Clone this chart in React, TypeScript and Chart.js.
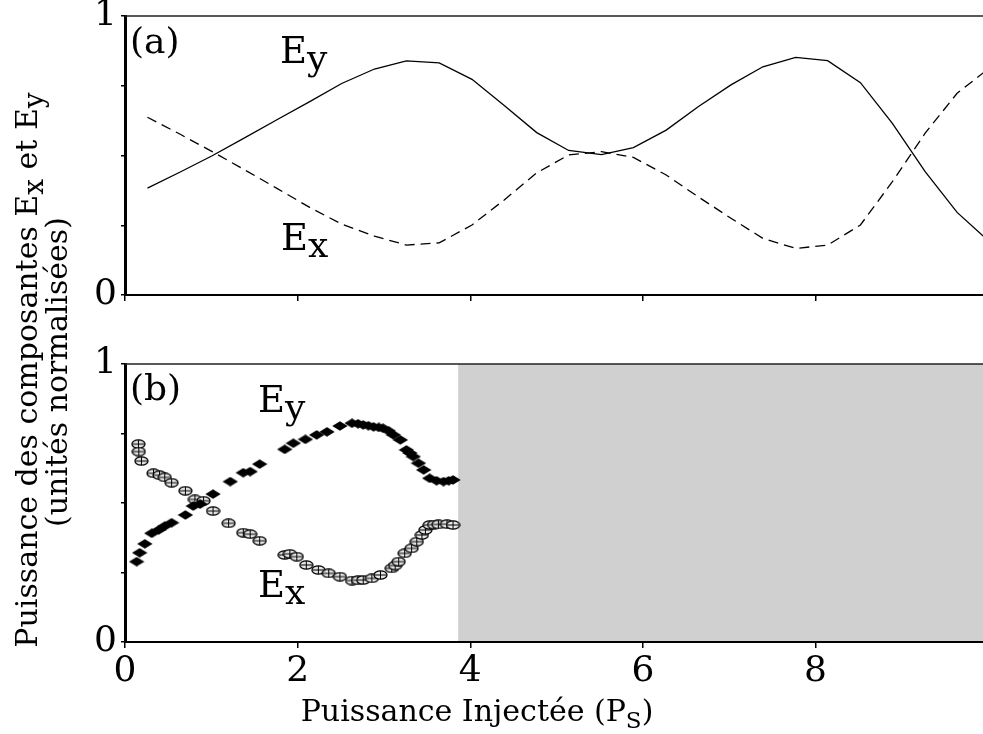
import React, { useEffect, useRef } from 'react';
import { Chart, registerables } from 'chart.js';

Chart.register(...registerables);

// ---------- data ----------
const X_MAX = 9.94;
const SHADE_START = 3.86;
const X_TICKS = [0, 2, 4, 6, 8];
const Y_TICKS = [0, 0.25, 0.5, 0.75, 1];
const Y_LABELED = [0, 1];

// (a) simulation
const simX = [0.26, 0.64, 1.01, 1.39, 1.76, 2.14, 2.51, 2.89, 3.26, 3.64, 4.02, 4.39, 4.77, 5.14, 5.52, 5.89, 6.27, 6.64, 7.02, 7.39, 7.77, 8.14, 8.52, 8.89, 9.27, 9.64, 10.02];
const simEy = [0.383, 0.441, 0.499, 0.564, 0.628, 0.693, 0.758, 0.810, 0.839, 0.832, 0.773, 0.68, 0.582, 0.518, 0.503, 0.528, 0.591, 0.675, 0.753, 0.818, 0.852, 0.840, 0.761, 0.615, 0.442, 0.296, 0.19];
const simEx = [0.637, 0.576, 0.514, 0.448, 0.382, 0.314, 0.254, 0.211, 0.179, 0.187, 0.251, 0.34, 0.438, 0.502, 0.514, 0.493, 0.430, 0.352, 0.275, 0.203, 0.167, 0.179, 0.251, 0.406, 0.580, 0.723, 0.815];

// (b) experiment
const expEyX = [0.135, 0.17, 0.23, 0.31, 0.39, 0.46, 0.54, 0.70, 0.79, 0.87, 1.02, 1.22, 1.37, 1.45, 1.56, 1.85, 1.95, 2.09, 2.22, 2.34, 2.49, 2.63, 2.70, 2.76, 2.82, 2.88, 2.94, 2.99, 3.05, 3.11, 3.19, 3.26, 3.30, 3.34, 3.40, 3.46, 3.53, 3.61, 3.69, 3.75, 3.80];
const expEy = [0.289, 0.321, 0.353, 0.391, 0.403, 0.417, 0.429, 0.457, 0.489, 0.496, 0.532, 0.577, 0.609, 0.613, 0.640, 0.693, 0.715, 0.729, 0.745, 0.756, 0.777, 0.787, 0.785, 0.781, 0.778, 0.774, 0.772, 0.769, 0.760, 0.745, 0.727, 0.691, 0.680, 0.667, 0.643, 0.619, 0.589, 0.580, 0.577, 0.580, 0.583];
const expExX = [0.155, 0.16, 0.19, 0.33, 0.40, 0.46, 0.54, 0.70, 0.81, 0.91, 1.02, 1.20, 1.37, 1.45, 1.56, 1.85, 1.91, 1.99, 2.10, 2.24, 2.36, 2.49, 2.63, 2.70, 2.76, 2.86, 2.96, 3.09, 3.13, 3.17, 3.24, 3.32, 3.38, 3.44, 3.48, 3.53, 3.58, 3.63, 3.73, 3.80];
const expEx = [0.712, 0.685, 0.651, 0.607, 0.600, 0.592, 0.573, 0.544, 0.513, 0.508, 0.471, 0.427, 0.393, 0.388, 0.364, 0.313, 0.317, 0.307, 0.277, 0.259, 0.247, 0.235, 0.221, 0.222, 0.223, 0.229, 0.241, 0.265, 0.275, 0.289, 0.319, 0.337, 0.361, 0.385, 0.403, 0.421, 0.422, 0.423, 0.424, 0.421];

const FONT = "'DejaVu Serif', serif";
const W = 983;
const H = 734;
const PLOT_LEFT = 125;

type Run = { t: string; s: number; dy?: number };

function drawRich(ctx: CanvasRenderingContext2D, runs: Run[], x: number, y: number, align: 'left' | 'center' = 'left') {
  const widths = runs.map((r) => {
    ctx.font = `${r.s}px ${FONT}`;
    return ctx.measureText(r.t).width;
  });
  const total = widths.reduce((a, b) => a + b, 0);
  let cx = align === 'center' ? x - total / 2 : x;
  ctx.textAlign = 'left';
  ctx.textBaseline = 'alphabetic';
  runs.forEach((r, i) => {
    ctx.font = `${r.s}px ${FONT}`;
    ctx.fillText(r.t, cx, y + (r.dy || 0));
    cx += widths[i];
  });
}

function scalesFor(showXLabels: boolean, xAxisH: number) {
  return {
    x: {
      type: 'linear',
      min: 0,
      max: X_MAX,
      afterBuildTicks: (s: any) => {
        s.ticks = X_TICKS.map((v) => ({ value: v }));
      },
      ticks: {
        display: showXLabels,
        autoSkip: false,
        maxRotation: 0,
        font: { family: FONT, size: 36 },
        color: '#000',
        padding: 2,
        callback: (v: any) => String(v),
      },
      grid: { drawOnChartArea: false, drawTicks: true, tickLength: 6, color: '#000', lineWidth: 1.5 },
      border: { display: true, color: '#000', width: 2 },
      afterFit: (s: any) => {
        s.height = xAxisH;
        s.paddingLeft = 0;
        s.paddingRight = 0;
      },
    },
    y: {
      type: 'linear',
      min: 0,
      max: 1,
      afterBuildTicks: (s: any) => {
        s.ticks = Y_TICKS.map((v) => ({ value: v }));
      },
      ticks: {
        autoSkip: false,
        font: { family: FONT, size: 36 },
        color: '#000',
        padding: 4,
        callback: (v: any) => (Y_LABELED.includes(v) ? String(v) : ''),
      },
      grid: { drawOnChartArea: false, drawTicks: true, tickLength: 4, color: '#000', lineWidth: 1.5 },
      border: { display: true, color: '#000', width: 3 },
      afterFit: (s: any) => {
        s.width = PLOT_LEFT;
        s.paddingTop = 0;
        s.paddingBottom = 0;
      },
    },
  };
}

function topLine(chart: any) {
  const { ctx, chartArea: ca } = chart;
  ctx.save();
  ctx.strokeStyle = '#222';
  ctx.lineWidth = 1.5;
  ctx.beginPath();
  ctx.moveTo(ca.left, ca.top);
  ctx.lineTo(ca.right, ca.top);
  ctx.stroke();
  ctx.restore();
}

const decoA = {
  id: 'decoA',
  afterDraw(chart: any) {
    topLine(chart);
    const ctx = chart.ctx as CanvasRenderingContext2D;
    ctx.save();
    ctx.fillStyle = '#000';
    drawRich(ctx, [{ t: '(a)', s: 36 }], 130, 53);
    drawRich(ctx, [{ t: 'E', s: 37 }, { t: 'y', s: 36, dy: 7 }], 280, 63);
    drawRich(ctx, [{ t: 'E', s: 37 }, { t: 'x', s: 36, dy: 7 }], 281, 250);
    ctx.restore();
  },
};

const decoB = {
  id: 'decoB',
  beforeDraw(chart: any) {
    const { ctx, chartArea: ca, scales } = chart;
    const x0 = scales.x.getPixelForValue(SHADE_START);
    ctx.save();
    ctx.fillStyle = '#d0d0d0';
    ctx.fillRect(x0, ca.top, ca.right - x0, ca.bottom - ca.top);
    ctx.restore();
  },
  afterDraw(chart: any) {
    topLine(chart);
    const ctx = chart.ctx as CanvasRenderingContext2D;
    ctx.save();
    ctx.fillStyle = '#000';
    drawRich(ctx, [{ t: '(b)', s: 36 }], 130, 400);
    drawRich(ctx, [{ t: 'E', s: 37 }, { t: 'y', s: 36, dy: 7 }], 258, 412);
    drawRich(ctx, [{ t: 'E', s: 37 }, { t: 'x', s: 36, dy: 7 }], 258, 597);
    // x title
    drawRich(ctx, [
      { t: 'Puissance Injectée (P', s: 30 },
      { t: 'S', s: 23, dy: 7 },
      { t: ')', s: 30 },
    ], 477, 721, 'center');
    // y title (rotated)
    ctx.save();
    ctx.translate(37, 370);
    ctx.rotate(-Math.PI / 2);
    drawRich(ctx, [
      { t: 'Puissance des composantes E', s: 30 },
      { t: 'x', s: 28, dy: 6 },
      { t: ' et E', s: 30 },
      { t: 'y', s: 28, dy: 6 },
    ], 0, 0, 'center');
    ctx.restore();
    ctx.save();
    ctx.translate(67, 372);
    ctx.rotate(-Math.PI / 2);
    drawRich(ctx, [{ t: '(unités normalisées)', s: 30 }], 0, 0, 'center');
    ctx.restore();
    ctx.restore();
  },
};

function makeDiamond(): HTMLCanvasElement {
  const c = document.createElement('canvas');
  c.width = 16;
  c.height = 10;
  const g = c.getContext('2d')!;
  g.fillStyle = '#000';
  g.beginPath();
  g.moveTo(8, 0.3);
  g.lineTo(15.7, 5);
  g.lineTo(8, 9.7);
  g.lineTo(0.3, 5);
  g.closePath();
  g.fill();
  return c;
}

function makeCircle(): HTMLCanvasElement {
  const c = document.createElement('canvas');
  c.width = 15;
  c.height = 10;
  const g = c.getContext('2d')!;
  g.fillStyle = '#e6e6e6';
  g.strokeStyle = '#000';
  g.lineWidth = 1.3;
  g.beginPath();
  g.ellipse(7.5, 5, 6.5, 4.2, 0, 0, Math.PI * 2);
  g.fill();
  g.stroke();
  g.lineWidth = 1;
  g.beginPath();
  g.moveTo(1.5, 5);
  g.lineTo(13.5, 5);
  g.moveTo(7.5, 1);
  g.lineTo(7.5, 9);
  g.stroke();
  return c;
}

export default function App() {
  const refA = useRef<HTMLCanvasElement>(null);
  const refB = useRef<HTMLCanvasElement>(null);

  useEffect(() => {
    const chartA = new Chart(refA.current!, {
      type: 'line',
      data: {
        datasets: [
          {
            label: 'Ey',
            data: simX.map((x, i) => ({ x, y: simEy[i] })),
            borderColor: '#000',
            borderWidth: 1.3,
            pointRadius: 0,
            tension: 0,
            fill: false,
          },
          {
            label: 'Ex',
            data: simX.map((x, i) => ({ x, y: simEx[i] })),
            borderColor: '#000',
            borderWidth: 1.3,
            borderDash: [10, 6],
            pointRadius: 0,
            tension: 0,
            fill: false,
          },
        ],
      },
      options: {
        responsive: false,
        animation: false,
        devicePixelRatio: 1,
        layout: { autoPadding: false, padding: { top: 16, left: 0, right: 0, bottom: H - 295 - 10 } },
        plugins: { legend: { display: false }, tooltip: { enabled: false } },
        scales: scalesFor(false, 10) as any,
      },
      plugins: [decoA],
    });

    const diamond = makeDiamond();
    const circle = makeCircle();
    const chartB = new Chart(refB.current!, {
      type: 'scatter',
      data: {
        datasets: [
          {
            label: 'Ey',
            data: expEyX.map((x, i) => ({ x, y: expEy[i] })),
            pointStyle: diamond as any,
            pointRadius: 7,
            showLine: false,
          },
          {
            label: 'Ex',
            data: expExX.map((x, i) => ({ x, y: expEx[i] })),
            pointStyle: circle as any,
            pointRadius: 7,
            showLine: false,
          },
        ],
      },
      options: {
        responsive: false,
        animation: false,
        devicePixelRatio: 1,
        layout: { autoPadding: false, padding: { top: 364, left: 0, right: 0, bottom: 0 } },
        plugins: { legend: { display: false }, tooltip: { enabled: false } },
        scales: scalesFor(true, 92) as any,
      },
      plugins: [decoB],
    });

    return () => {
      chartA.destroy();
      chartB.destroy();
    };
  }, []);

  return (
    <div style={{ position: 'fixed', left: 0, top: 0, width: W, height: H, background: '#fff' }}>
      <canvas ref={refA} width={W} height={H} style={{ position: 'absolute', left: 0, top: 0, width: W, height: H }} />
      <canvas ref={refB} width={W} height={H} style={{ position: 'absolute', left: 0, top: 0, width: W, height: H }} />
    </div>
  );
}
